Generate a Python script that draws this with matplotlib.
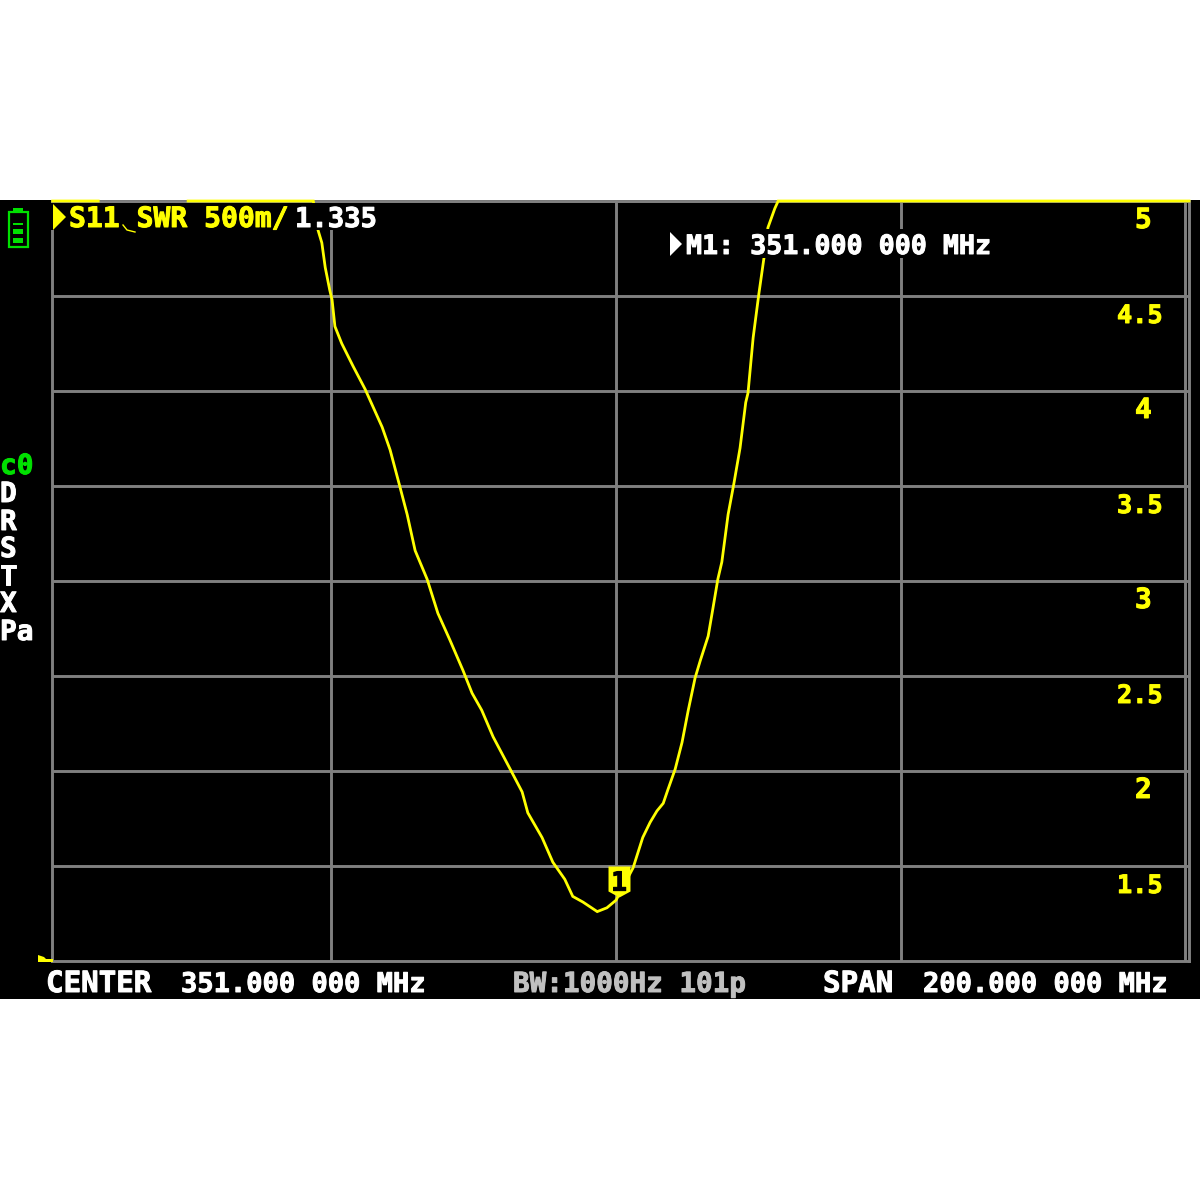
import numpy as np
import matplotlib
matplotlib.use("Agg")
import matplotlib.pyplot as plt
import matplotlib.patheffects as pe
from matplotlib.path import Path
from matplotlib.patches import Rectangle, Polygon

# ---- data ----
center_mhz = 351.0
marker_swr = 1.335
swr_ticks = [1.5, 2, 2.5, 3, 3.5, 4, 4.5, 5]
swr_labels = ["1.5", "2", "2.5", "3", "3.5", "4", "4.5", "5"]
freq_ticks = [301, 351, 401, 451]

freq = [252.0, 260.0, np.nan, 275.8, 297.8, 298.6, 299.3, 299.9, 300.7, 301.1, 301.6, 302.8,
        304.8, 306.9, 309.9, 311.3, 312.9, 314.3, 315.7, 317.8, 319.7, 321.8, 324.1,
        325.7, 327.4, 329.4, 332.4, 334.5, 335.5, 338.0, 339.9, 342.0, 343.4, 345.2,
        347.7, 349.4, 351.0, 354.0, 355.7, 357.0, 358.2, 359.3, 360.1, 361.4, 362.6,
        363.7, 364.9, 365.8, 367.2, 368.0, 368.9, 369.6, 370.7, 371.7, 372.8, 373.8,
        374.2, 375.1, 376.1, 377.0, 377.7, 378.9, 379.5, 451.7]
swr = [5.0, 5.0, np.nan, 5.0, 5.0, 4.85, 4.78, 4.65, 4.53, 4.48, 4.34, 4.25,
       4.13, 4.01, 3.81, 3.69, 3.51, 3.35, 3.16, 3.01, 2.83, 2.69, 2.53,
       2.41, 2.32, 2.18, 2.01, 1.89, 1.78, 1.65, 1.52, 1.43, 1.34, 1.31,
       1.26, 1.28, 1.32, 1.49, 1.65, 1.73, 1.79, 1.83, 1.90, 2.01, 2.15,
       2.32, 2.49, 2.58, 2.71, 2.85, 3.01, 3.10, 3.35, 3.51, 3.70, 3.94,
       3.99, 4.28, 4.51, 4.70, 4.86, 4.96, 5.0, 5.0]

left_labels = ["D", "R", "S", "T", "X", "Pa"]
left_baselines = [502, 530, 557, 585, 612, 640]

# ---- styles ----
GRID = "#808080"
YEL = "#ffff00"
GRN = "#00e000"


def font(size, color):
    return dict(family="DejaVu Sans Mono", weight="bold", fontsize=size, color=color,
                path_effects=[pe.withStroke(linewidth=0.7, foreground=color)])


fig = plt.figure(figsize=(12, 12), dpi=100, facecolor="white")
W = H = 1200.0

# black instrument panel
panel = fig.add_axes([0, (H - 999) / H, 1, 799 / H], facecolor="black")
panel.set_xticks([]); panel.set_yticks([])
for s in panel.spines.values():
    s.set_visible(False)

# plot area
ax = fig.add_axes([52 / W, (H - 961) / H, (1189 - 52) / W, 760 / H], facecolor="black")
ax.set_xlim(251.88, 451.7)
ax.set_ylim(1, 5)
ax.set_xticks(freq_ticks)
ax.set_yticks(swr_ticks)
ax.grid(True, color=GRID, lw=2.1)
ax.set_axisbelow(True)
ax.tick_params(length=0, labelbottom=False, labelleft=False)
for s in ax.spines.values():
    s.set_color(GRID)
    s.set_linewidth(2.1)
    s.set_zorder(1)

ax.plot(freq, swr, color=YEL, lw=2.0, clip_on=False, zorder=3, solid_joinstyle="miter")

# marker 1
mk = Path([(3, 0), (-8, 6), (-8, 31), (14, 31), (14, 6), (3, 0)], closed=True)
ax.plot([center_mhz], [marker_swr], marker=mk, ms=44.6, color=YEL, mec=YEL, mew=0, zorder=4, ls="none")
ax.annotate("1", (center_mhz, marker_swr), xytext=(2.2, 0.5), textcoords="offset points",
            ha="center", va="bottom", zorder=5, **font(19, "black"))

# scale labels inside the plot
for v, t in zip(swr_ticks, swr_labels):
    left = 1117 if len(t) > 1 else 1135
    ax.annotate(t, (0, v), xycoords=ax.get_yaxis_transform(),
                xytext=((left - 52) * 0.72, -27 * 0.72), textcoords="offset points",
                ha="left", va="baseline", zorder=5, **font(18.2 if len(t) > 1 else 20, YEL))

# overlay in screen pixels: text boxes and status text
ov = fig.add_axes([0, 0, 1, 1], facecolor="none")
ov.set_xlim(0, W); ov.set_ylim(H, 0); ov.axis("off")

ov.add_patch(Rectangle((50, 203), 327, 27, fc="black", ec="none", zorder=1))
ov.add_patch(Rectangle((669, 229), 323, 29, fc="black", ec="none", zorder=1))

ov.add_patch(Polygon([(53, 204), (66, 217), (53, 230)], fc=YEL, ec="none", zorder=2))
ov.add_patch(Polygon([(670, 232), (682, 244), (670, 256)], fc="white", ec="none", zorder=2))
ov.plot([123, 127, 135], [225, 230, 232], color=YEL, lw=1, zorder=3)

ov.text(69, 227, "S11 SWR 500m/", zorder=3, **font(20.2, YEL))
ov.text(295, 227, "1.335", zorder=3, **font(19.6, "white"))
ov.text(686, 254, "M1: 351.000 000 MHz", zorder=3, **font(19.2, "white"))
ov.text(46, 992, "CENTER", zorder=3, **font(21, "white"))
ov.text(181, 992, "351.000 000 MHz", zorder=3, **font(19.5, "white"))
ov.text(513, 992, "BW:1000Hz 101p", zorder=3, **font(19.9, "#c0c0c0"))
ov.text(823, 992, "SPAN", zorder=3, **font(21, "white"))
ov.text(923, 992, "200.000 000 MHz", zorder=3, **font(19.5, "white"))

ov.text(0, 474, "c0", zorder=3, **font(20, GRN))
for t, b in zip(left_labels, left_baselines):
    ov.text(0, b, t, zorder=3, **font(20, "white"))

# battery icon
ov.add_patch(Rectangle((9, 212), 19, 35, fc="none", ec=GRN, lw=1.6, zorder=3))
ov.add_patch(Rectangle((13, 208), 10, 4, fc=GRN, ec="none", zorder=3))
ov.add_patch(Rectangle((13, 223), 10, 2, fc=GRN, ec="none", zorder=3))
ov.add_patch(Rectangle((13, 229), 10, 5, fc=GRN, ec="none", zorder=3))
ov.add_patch(Rectangle((13, 238), 10, 5, fc=GRN, ec="none", zorder=3))

# reference level pointer
ov.add_patch(Polygon([(38, 955), (44, 957), (46, 959), (53, 959), (53, 962), (38, 962)],
                     fc=YEL, ec="none", zorder=3))

fig.savefig("out.png", dpi=100, facecolor="white")
